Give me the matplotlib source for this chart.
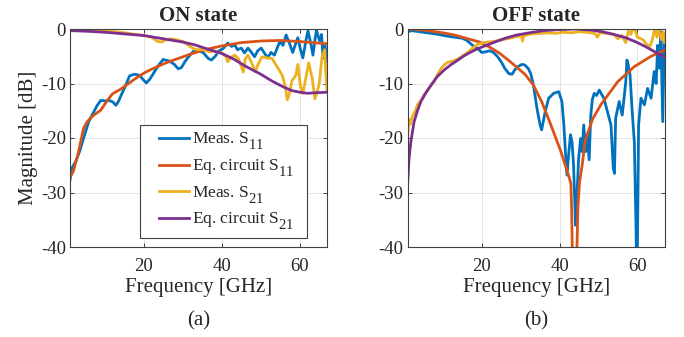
import numpy as np
import matplotlib
matplotlib.use("Agg")
import matplotlib.pyplot as plt
import matplotlib._mathtext as _mt
from matplotlib.legend_handler import HandlerLine2D

# MATLAB-like larger, lower subscripts
_mt.SHRINK_FACTOR = 0.85
_mt.FontConstantsBase.sub1 = 0.8
_mt.FontConstantsBase.sub2 = 0.8

plt.rcParams['font.family'] = ['Liberation Serif', 'DejaVu Serif']
plt.rcParams['mathtext.fontset'] = 'custom'
plt.rcParams['mathtext.rm'] = 'Liberation Serif'
plt.rcParams['mathtext.it'] = 'Liberation Serif:italic'

C_BLUE = '#0072BD'
C_ORANGE = '#D95319'
C_YELLOW = '#EDB120'
C_PURPLE = '#7E2F8E'
TXT = '#262626'

# ---------------- ON state ----------------
on_meas_s11_f = [1, 1.5, 2.5, 3.6, 4.5, 5.8, 7.1, 8.0, 8.9, 10.0, 11.1, 12.0, 12.8, 13.5, 14.1, 15.2, 16.3, 17.6, 18.9, 19.8, 20.6, 21.5, 22.3, 23.6, 24.9, 26.6, 27.8, 28.8, 29.6, 30.5, 31.8, 33.1, 34.3, 35.3, 36.5, 37.3, 38.3, 39.3, 40.3, 41.5, 42.5, 43.3, 44.0, 45.0, 45.8, 46.7, 47.5, 48.4, 49.2, 50.1, 51.0, 51.8, 52.6, 53.5, 54.2, 54.9, 55.7, 56.5, 57.3, 58.2, 58.8, 59.5, 60.2, 60.8, 61.5, 62.1, 62.8, 63.4, 63.9, 64.3, 64.8, 65.2, 65.6, 66.0, 66.5, 67.0]
on_meas_s11 = [-27.7, -25.5, -24.3, -22.2, -20.0, -17.0, -15.2, -14.0, -13.1, -13.2, -13.1, -13.4, -14.0, -13.2, -12.2, -10.5, -8.6, -8.3, -8.5, -9.3, -9.9, -9.2, -8.3, -6.8, -5.6, -5.9, -6.5, -7.3, -7.1, -6.0, -4.8, -3.8, -4.0, -4.4, -5.4, -5.7, -5.0, -4.0, -3.6, -2.6, -3.2, -2.9, -3.8, -3.5, -4.4, -3.5, -4.2, -5.1, -4.0, -3.5, -4.5, -5.3, -4.3, -4.8, -3.5, -2.3, -3.0, -1.1, -2.5, -4.3, -3.0, -1.6, -3.8, -5.3, -2.5, -0.3, -2.5, -4.8, -2.0, -0.2, -1.5, -2.3, -1.0, -5.3, -3.0, -6.0]

on_eq_s11_f = [1, 1.9, 3.2, 4.5, 5.4, 7.1, 8.9, 10.6, 11.9, 14.1, 17.6, 20.2, 22.5, 25.0, 28.0, 30.0, 32.0, 35.0, 40.0, 45.0, 50.0, 55.0, 60.0, 65.0, 67.0]
on_eq_s11 = [-27.3, -26.0, -22.5, -18.2, -17.0, -15.8, -14.9, -13.1, -11.9, -11.0, -9.2, -8.0, -7.2, -6.4, -5.6, -5.1, -4.6, -3.9, -3.1, -2.5, -2.2, -2.1, -2.3, -2.6, -2.7]

on_meas_s21_f = [1, 5, 10, 15, 18, 20, 22, 23.5, 24.5, 25.5, 27, 28.5, 30, 31, 32, 33, 34, 35, 36, 37, 38, 39, 40, 41, 41.5, 42.3, 43.3, 44.3, 45.5, 46.0, 46.7, 47.5, 48.6, 49.3, 50.3, 51.5, 52.9, 53.8, 54.7, 55.5, 56.3, 56.8, 57.3, 58.0, 59.0, 59.5, 60.2, 60.8, 61.7, 62.3, 63.2, 63.9, 64.5, 65.0, 65.7, 66.4, 66.7, 67.0]
on_meas_s21 = [0.0, -0.1, -0.3, -0.7, -1.0, -1.2, -1.5, -2.3, -2.4, -2.0, -1.8, -2.0, -2.3, -2.8, -3.3, -3.7, -3.8, -3.7, -4.0, -4.2, -4.0, -4.3, -4.4, -5.0, -6.0, -5.2, -4.8, -5.5, -7.9, -5.5, -4.8, -6.0, -7.8, -6.5, -5.1, -5.3, -5.4, -6.5, -7.5, -8.5, -10.5, -13.0, -12.0, -9.5, -8.5, -6.5, -10.6, -11.8, -8.5, -6.2, -9.0, -12.8, -11.5, -10.0, -5.3, -3.8, -8.0, -11.3]

on_eq_s21_f = [1, 5, 10, 15, 20, 25, 30, 33, 36, 40, 43, 46, 50, 53, 56, 58, 60, 62, 64, 67]
on_eq_s21 = [-0.3, -0.4, -0.6, -0.9, -1.2, -1.8, -2.4, -2.9, -3.6, -4.5, -5.5, -6.8, -8.3, -9.6, -10.7, -11.3, -11.6, -11.8, -11.7, -11.6]

# ---------------- OFF state ----------------
off_meas_s11_f = [1, 2, 3, 5, 7, 9, 11, 13, 15, 16, 17, 18, 19, 20, 21, 22, 23, 24, 25, 26, 27, 27.8, 28.5, 29.3, 30.3, 31.1, 32.0, 32.6, 33.3, 34.2, 35.0, 35.4, 36.3, 37.2, 38.5, 39.8, 40.6, 41.1, 41.5, 41.9, 42.4, 42.8, 43.2, 43.6, 44.1, 44.5, 44.9, 45.4, 45.8, 46.2, 46.7, 47.1, 47.6, 48.0, 48.4, 48.9, 49.5, 50.2, 50.8, 51.4, 52.3, 53.2, 53.8, 54.1, 54.4, 55.3, 56.1, 57.0, 57.3, 57.6, 58.1, 58.6, 59.2, 59.6, 59.8, 60.0, 60.3, 60.9, 61.8, 62.6, 63.5, 64.3, 64.8, 65.2, 65.6, 66.0, 66.5, 66.9]
off_meas_s11 = [-0.5, -0.3, -0.4, -0.6, -0.8, -1.0, -1.3, -1.5, -1.7, -2.0, -2.6, -3.2, -3.6, -4.3, -4.2, -4.0, -4.3, -5.0, -6.0, -7.3, -8.2, -8.3, -7.5, -6.9, -6.5, -6.6, -7.3, -8.2, -10.3, -14.6, -17.6, -18.5, -15.2, -12.7, -11.8, -11.5, -13.3, -17.6, -22.5, -26.8, -22.5, -19.4, -20.7, -25.0, -36.0, -30.0, -23.7, -20.1, -22.5, -17.6, -22.5, -19.4, -24.0, -16.0, -13.0, -11.8, -12.2, -11.2, -12.0, -12.7, -15.2, -17.6, -25.6, -26.5, -16.4, -13.3, -15.8, -9.7, -5.7, -6.5, -8.4, -14.6, -20.7, -35.0, -45.0, -40.0, -17.6, -12.7, -13.9, -10.9, -12.7, -7.8, -10.0, -3.0, -7.2, -0.5, -17.0, -1.1]

off_eq_s11_f = [1, 5, 10, 13, 15, 17.5, 19.5, 22, 24.7, 27, 29.8, 31.1, 33.3, 35.5, 37.6, 40.2, 41.9, 42.9, 43.1, 43.3, 43.85, 44.4, 44.7, 45.1, 45.8, 46.6, 48.5, 50.6, 54.9, 59.2, 63.5, 67]
off_eq_s11 = [0.0, -0.2, -0.7, -1.1, -1.5, -2.0, -2.4, -3.3, -4.5, -5.8, -7.5, -8.3, -10.3, -13.5, -17.3, -22.2, -25.9, -28.3, -33.0, -42.0, -70.0, -42.0, -33.0, -28.3, -25.0, -20.4, -16.5, -13.9, -9.7, -6.9, -5.0, -3.9]

off_meas_s21_f = [1, 1.3, 1.7, 2.2, 3, 3.5, 4.5, 5.2, 6, 7, 7.8, 8.5, 9.5, 10.5, 11.3, 12.5, 13.9, 15, 16.4, 17.5, 19, 20.5, 21.6, 23, 25, 26.5, 27.7, 29, 30.2, 30.5, 30.8, 32, 33, 35, 37, 39, 41, 43, 45, 47, 49, 49.7, 50.3, 52, 54, 55, 56, 57, 57.7, 58.3, 59, 59.4, 60, 61.5, 62.3, 63.2, 63.8, 64.5, 65, 65.4, 66.2, 66.6, 67]
off_meas_s21 = [-19.3, -16.5, -17.5, -16.0, -15.0, -13.9, -13.0, -12.1, -11.3, -10.3, -9.7, -8.6, -7.3, -6.5, -6.1, -5.9, -5.5, -5.0, -4.3, -3.6, -2.8, -2.5, -2.4, -2.3, -2.0, -1.8, -1.6, -1.4, -1.3, -2.2, -1.3, -1.0, -0.9, -0.8, -0.7, -0.8, -0.6, -0.7, -0.5, -0.6, -0.8, -1.5, -0.7, -0.8, -1.0, -1.8, -1.2, -2.5, -0.3, -1.0, 0.4, -0.2, -1.5, -2.0, -2.8, -3.2, -2.0, 0.2, -1.5, 0.0, -2.0, -0.5, -2.5]

off_eq_s21_f = [1, 1.35, 1.8, 2.65, 3.5, 4.4, 5.5, 7, 8.5, 10.4, 12, 13.9, 15.5, 17.3, 19, 20.8, 23, 26, 29, 33, 36, 40, 44, 48, 51, 54, 57, 60, 62, 64, 66, 67]
off_eq_s21 = [-28.3, -23.7, -20.7, -17.0, -15.0, -13.3, -11.9, -10.3, -8.8, -7.5, -6.6, -5.7, -4.9, -4.2, -3.6, -3.1, -2.5, -1.7, -1.1, -0.6, -0.3, -0.1, 0.0, -0.2, -0.5, -1.0, -1.6, -2.5, -3.2, -4.0, -4.8, -5.2]

x_ticks = [20, 40, 60]
y_ticks = [0, -10, -20, -30, -40]
titles = ['ON state', 'OFF state']
panel_labels = ['(a)', '(b)']
legend_labels = ['Meas. S$_{\\mathregular{11}}$', 'Eq. circuit S$_{\\mathregular{11}}$',
                 'Meas. S$_{\\mathregular{21}}$', 'Eq. circuit S$_{\\mathregular{21}}$']


class ShortLineHandler(HandlerLine2D):
    """Draw the legend sample only in the right part of the handle box."""
    def __init__(self, frac=0.3, **kw):
        super().__init__(**kw)
        self.frac = frac

    def create_artists(self, legend, orig_handle, xdescent, ydescent,
                       width, height, fontsize, trans):
        arts = super().create_artists(legend, orig_handle, xdescent, ydescent,
                                      width, height, fontsize, trans)
        for a in arts:
            xd = np.asarray(a.get_xdata(), float)
            if xd.size >= 2:
                x0, x1 = xd[0], xd[-1]
                a.set_xdata(np.linspace(x0 + self.frac * (x1 - x0), x1, xd.size))
        return arts


fig = plt.figure(figsize=(6.84, 3.37), dpi=100)
W, H = 684.0, 337.0
ax1 = fig.add_axes([70 / W, 1 - 247 / H, 257 / W, 218 / H])
ax2 = fig.add_axes([407.7 / W, 1 - 247 / H, 257 / W, 218 / H])

datasets = [
    [(on_meas_s11_f, on_meas_s11, C_BLUE), (on_eq_s11_f, on_eq_s11, C_ORANGE),
     (on_meas_s21_f, on_meas_s21, C_YELLOW), (on_eq_s21_f, on_eq_s21, C_PURPLE)],
    [(off_meas_s11_f, off_meas_s11, C_BLUE), (off_eq_s11_f, off_eq_s11, C_ORANGE),
     (off_meas_s21_f, off_meas_s21, C_YELLOW), (off_eq_s21_f, off_eq_s21, C_PURPLE)],
]

lw = 2.0
lines1 = []
for ax, ds, title in zip([ax1, ax2], datasets, titles):
    for (f, v, c), lab in zip(ds, legend_labels):
        ln, = ax.plot(f, v, color=c, lw=lw, label=lab, solid_joinstyle='round')
        if ax is ax1:
            lines1.append(ln)
    ax.set_xlim(1, 67)
    ax.set_ylim(-40, 0)
    ax.set_xticks(x_ticks)
    ax.set_yticks(y_ticks)
    ax.set_yticklabels([str(t) for t in y_ticks])
    ax.grid(True, color='#e3e3e3', lw=0.7)
    ax.set_axisbelow(True)
    ax.tick_params(direction='in', top=True, right=True, length=3, width=0.6,
                   labelsize=13.5, colors=TXT)
    ax.tick_params(axis='x', pad=8)
    ax.tick_params(axis='y', pad=3)
    for sp in ax.spines.values():
        sp.set_color('#404040')
        sp.set_linewidth(0.8)
    ax.set_title(title, fontsize=15, fontweight='bold', color=TXT, pad=6)
    ax.set_xlabel('Frequency [GHz]', fontsize=15, color=TXT, labelpad=2)

ax1.set_ylabel('Magnitude [dB]', fontsize=15, color=TXT, labelpad=2)

leg_x0 = (140 - 70) / 257
leg_w = (307.3 - 140) / 257
leg = ax1.legend(handles=lines1, loc='lower left', mode='expand',
                 bbox_to_anchor=(leg_x0, 0.040, leg_w, 0.5),
                 fontsize=12.5, frameon=True, fancybox=False, framealpha=1,
                 edgecolor='#404040', handlelength=2.5, handletextpad=0.12,
                 borderpad=0.35, labelspacing=0.3, borderaxespad=0,
                 handler_map={l: ShortLineHandler(frac=0.29) for l in lines1})
leg.get_frame().set_linewidth(0.8)
for t in leg.get_texts():
    t.set_color(TXT)

fig.text(198.5 / W, 1 - 321 / H, panel_labels[0], ha='center', va='center', fontsize=15, color=TXT)
fig.text(536 / W, 1 - 321 / H, panel_labels[1], ha='center', va='center', fontsize=15, color=TXT)

fig.savefig('out.png', dpi=100)
